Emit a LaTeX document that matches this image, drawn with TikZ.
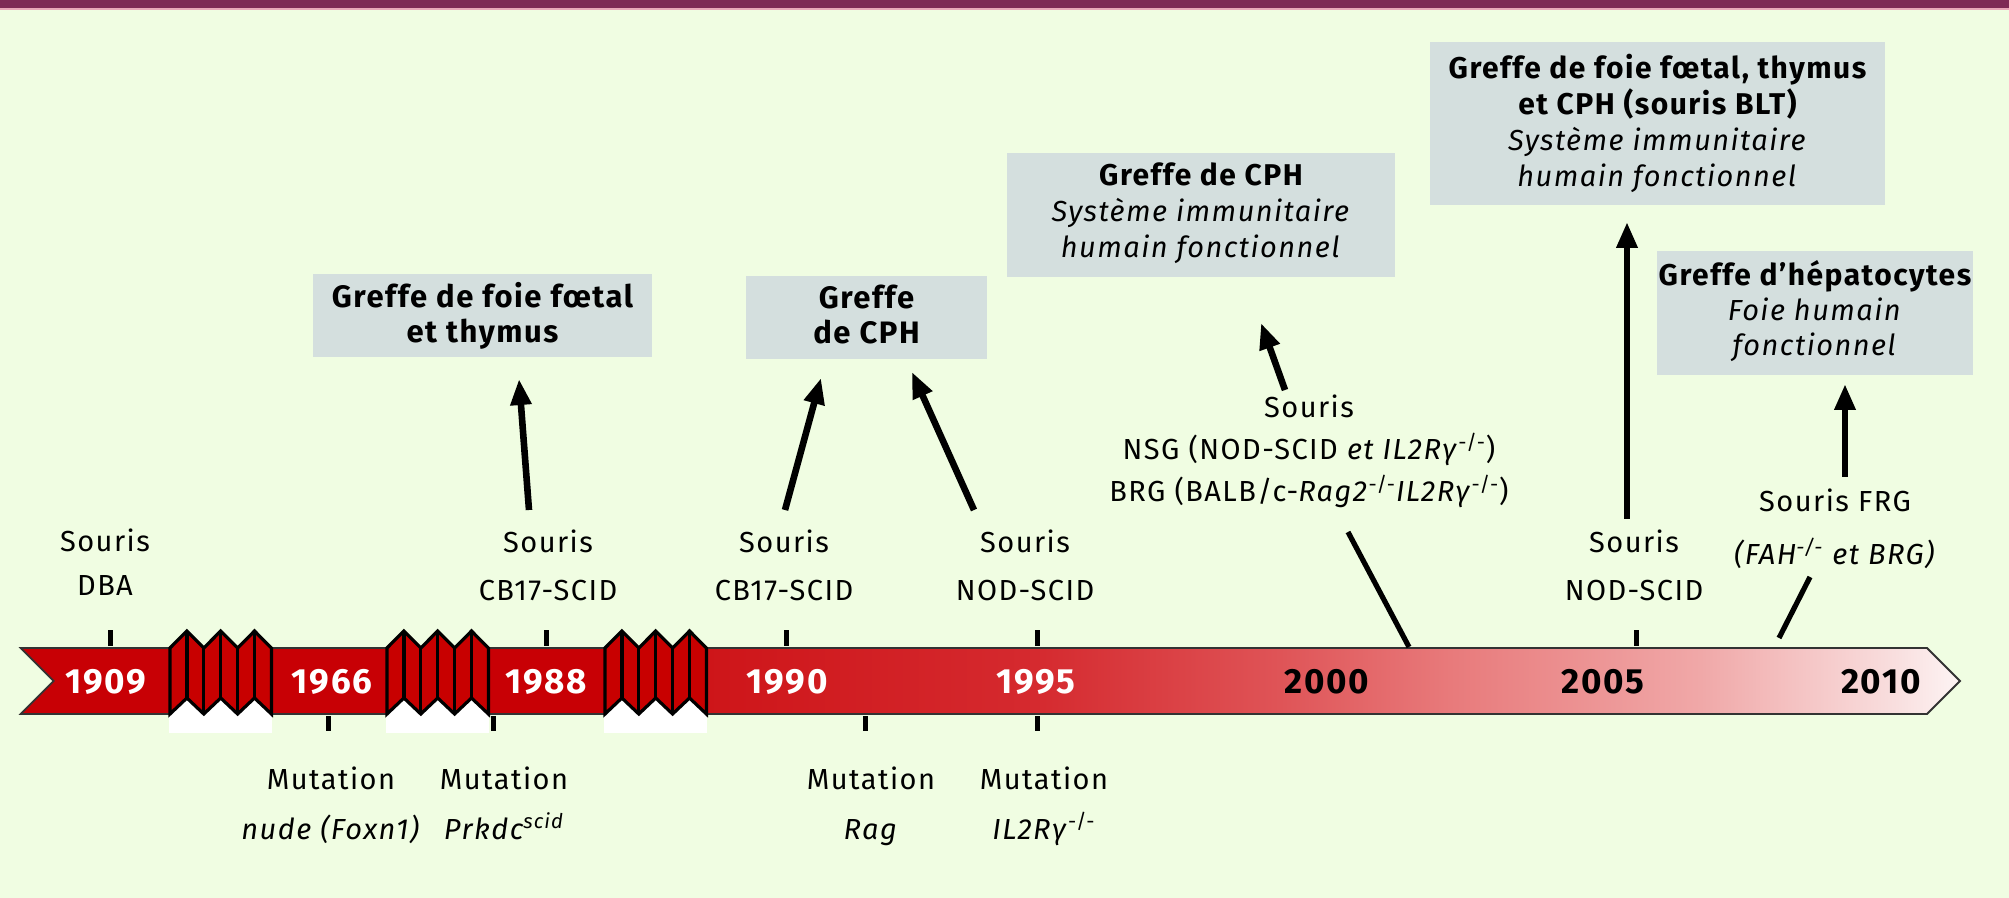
\documentclass[tikz,border=0pt]{standalone}
\usepackage{fontspec}
\setmainfont{Fira Sans}[LetterSpace=5]
\usetikzlibrary{arrows.meta}
\definecolor{bg}{HTML}{F0FDE2}
\definecolor{topbar}{HTML}{7E2A55}
\definecolor{topline}{HTML}{E8A8B8}
\definecolor{boxgray}{HTML}{D4DFDE}
\definecolor{bandred}{HTML}{C80005}
\definecolor{bandredb}{HTML}{CE1519}
\definecolor{gA}{HTML}{D52A2F}
\definecolor{gB}{HTML}{DF5457}
\definecolor{gC}{HTML}{E87A7B}
\definecolor{gD}{HTML}{F0A8A8}
\definecolor{gE}{HTML}{F9E0E0}
\definecolor{gF}{HTML}{FDF4F4}
\definecolor{brkred}{HTML}{C80000}
\definecolor{bandline}{HTML}{333333}
\pgfdeclarehorizontalshading{bandshade}{100bp}{color(0bp)=(bandred); color(42.2bp)=(bandred); color(42.67bp)=(bandredb); color(51.2bp)=(gA); color(57.46bp)=(gB); color(61.85bp)=(gC); color(68.3bp)=(gD); color(73.46bp)=(gE); color(75bp)=(gF); color(100bp)=(gF)}
\newcommand{\zigbreak}[1]{%
  \fill[white] ({#1-1},698) rectangle ({#1+102.4},733);
  \filldraw[fill=brkred, draw=black, line width=1.6pt]
    (#1,648) -- ({#1+16.9},631) -- ({#1+33.8},648) -- ({#1+50.7},631) -- ({#1+67.6},648) -- ({#1+84.5},631) -- ({#1+101.4},648)
    -- ({#1+101.4},714) -- ({#1+84.5},698) -- ({#1+67.6},714) -- ({#1+50.7},698) -- ({#1+33.8},714) -- ({#1+16.9},698) -- (#1,714) -- cycle;
  \foreach \k in {1,3,5} \draw[line width=1.6pt] ({#1+\k*16.9},631) -- ({#1+\k*16.9},698);
  \foreach \k in {2,4} \draw[line width=1.6pt] ({#1+\k*16.9},648) -- ({#1+\k*16.9},714);
}
\begin{document}
\begin{tikzpicture}[x=0.5pt,y=-0.5pt,
  lbl/.style={align=center, inner sep=0pt, anchor=base},
  yearw/.style={inner sep=0pt, anchor=base, text=white, font=\fontsize{17.5}{20}\selectfont\bfseries},
  yeark/.style={inner sep=0pt, anchor=base, text=black, font=\fontsize{17.5}{20}\selectfont\bfseries},
  gbox/.style={fill=boxgray, inner sep=0pt, align=center, anchor=base},
  tickmark/.style={line width=2.5pt, black},
  stem/.style={line width=2.6pt, black},
  arr/.style={line width=3.3pt, black, -{Triangle[length=13pt,width=10pt]}}
]
\useasboundingbox (0,0) rectangle (2009,898);
\fill[bg] (0,0) rectangle (2009,898);
\fill[topbar] (0,0) rectangle (2009,8.5);
\draw[topline, line width=0.6pt] (0,9) -- (2009,9);

% timeline band
\path[shading=bandshade, draw=bandline, line width=0.9pt]
  (20.7,648) -- (1927,648) -- (1960,681) -- (1927,714) -- (20.7,714) -- (53.7,681) -- cycle;
\zigbreak{170}
\zigbreak{387}
\zigbreak{605}

% years
\node[yearw] (y1909) at (106,693) {1909};
\node[yearw] (y1966) at (332,693) {1966};
\node[yearw] (y1988) at (546,693) {1988};
\node[yearw] (y1990) at (787,693) {1990};
\node[yearw] (y1995) at (1036,693) {1995};
\node[yeark] (y2000) at (1327,693) {2000};
\node[yeark] (y2005) at (1603,693) {2005};
\node[yeark] (y2010) at (1881,693) {2010};

% ticks
\foreach \xx in {110,546,786,1037,1636} \draw[tickmark] (\xx,630) -- (\xx,646);
\foreach \xx in {328,493,865,1037} \draw[tickmark] (\xx,716) -- (\xx,731);

% labels above (anchor = baseline of last line)
\node[lbl, font=\fontsize{14.5}{22}\selectfont] (dba) at (105,596) {Souris\\DBA};
\node[lbl, font=\fontsize{14.5}{24.5}\selectfont] (cbA) at (548,601) {Souris\\CB17-SCID};
\node[lbl, font=\fontsize{14.5}{24.5}\selectfont] (cbB) at (784,601) {Souris\\CB17-SCID};
\node[lbl, font=\fontsize{14.5}{24.5}\selectfont] (nodA) at (1025,601) {Souris\\NOD-SCID};
\node[lbl, font=\fontsize{14.5}{24.5}\selectfont] (nodB) at (1634,601) {Souris\\NOD-SCID};
\node[lbl, font=\fontsize{14.5}{21}\selectfont] (nsg) at (1309,502) {Souris\\NSG (NOD-SCID \textit{et IL2Rγ}\textsuperscript{-/-})\\BRG (BALB/c-\textit{Rag2}\textsuperscript{-/-}\textit{IL2Rγ}\textsuperscript{-/-})};
\node[lbl, font=\fontsize{14.5}{26.5}\selectfont] (frg) at (1835,565) {Souris FRG\\\textit{(FAH\textsuperscript{-/-} et BRG)}};

% labels below
\node[lbl, font=\fontsize{14.5}{25}\selectfont] (mutA) at (331,839) {Mutation\\\textit{nude (Foxn1)}};
\node[lbl, font=\fontsize{14.5}{25}\selectfont] (mutB) at (504,839) {Mutation\\\textit{Prkdc\textsuperscript{scid}}};
\node[lbl, font=\fontsize{14.5}{25}\selectfont] (mutC) at (871,839) {Mutation\\\textit{Rag}};
\node[lbl, font=\fontsize{14.5}{25}\selectfont] (mutD) at (1044,839) {Mutation\\\textit{IL2Rγ}\textsuperscript{-/-}};

% boxes (anchor = baseline of last line)
\node[gbox, minimum width=169.5pt, text height=34.5pt, text depth=7pt, font=\fontsize{15.5}{17.5}\selectfont\bfseries] (bA) at (482.5,343) {Greffe de foie fœtal\\et thymus};
\node[gbox, minimum width=120.5pt, text height=34pt, text depth=7.5pt, font=\fontsize{15.5}{17.5}\selectfont\bfseries] (bB) at (866.5,344) {Greffe\\de CPH};
\node[gbox, minimum width=194pt, text height=52.5pt, text depth=9.5pt, font=\fontsize{14.5}{18}\selectfont] (bC) at (1201,258) {{\bfseries\fontsize{15}{18}\selectfont Greffe de CPH}\\\textit{Système immunitaire}\\\textit{humain fonctionnel}};
\node[gbox, minimum width=227.5pt, text height=72.5pt, text depth=9pt, font=\fontsize{14.5}{18}\selectfont] (bD) at (1657.5,187) {{\bfseries\fontsize{15}{18}\selectfont Greffe de foie fœtal, thymus}\\{\bfseries\fontsize{15}{18}\selectfont et CPH (souris BLT)}\\\textit{Système immunitaire}\\\textit{humain fonctionnel}};
\node[gbox, minimum width=158pt, text height=52.5pt, text depth=9.5pt, font=\fontsize{14.5}{17.5}\selectfont] (bE) at (1815,356) {{\bfseries\fontsize{15}{17.5}\selectfont Greffe d’hépatocytes}\\\textit{Foie humain}\\\textit{fonctionnel}};

% connector end points
\coordinate (a1s) at (529,510); \coordinate (a1e) at (519,379);
\coordinate (a2s) at (785,510); \coordinate (a2e) at (821,378);
\coordinate (a3s) at (974,510); \coordinate (a3e) at (912,372);
\coordinate (a4s) at (1285,390); \coordinate (a4e) at (1261,323);
\coordinate (a5s) at (1627,519); \coordinate (a5e) at (1627,222);
\coordinate (a6s) at (1845,477); \coordinate (a6e) at (1845,384);
\coordinate (l1s) at (1348,532); \coordinate (l1e) at (1409,647);
\coordinate (l2s) at (1810,577); \coordinate (l2e) at (1779,638);

\draw[arr] (a1s) -- (a1e);
\draw[arr] (a2s) -- (a2e);
\draw[arr] (a3s) -- (a3e);
\draw[arr] (a4s) -- (a4e);
\draw[arr] (a5s) -- (a5e);
\draw[arr] (a6s) -- (a6e);
\draw[stem] (l1s) -- (l1e);
\draw[stem] (l2s) -- (l2e);
\end{tikzpicture}
\end{document}
